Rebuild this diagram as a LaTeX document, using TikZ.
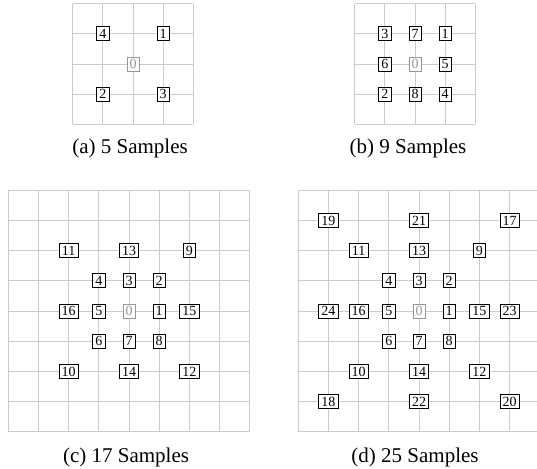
\documentclass[tikz,border=0pt]{standalone}
\usepackage{fontspec}
\setmainfont{Liberation Serif}
\definecolor{gridgray}{RGB}{204,204,204}
\definecolor{origingray}{RGB}{150,150,150}
\def\cellsz{30.2}
\tikzset{
  gridline/.style={draw=gridgray, line width=0.9pt},
  sample/.style={draw=black, fill=white, line width=0.8pt, inner xsep=2.6pt, inner ysep=2.2pt,
    text height=9.5pt, text depth=0pt, font=\fontsize{14}{14}\selectfont},
  originbox/.style={sample, draw=origingray, text=origingray},
  caption/.style={anchor=base, font=\fontsize{21}{21}\selectfont},
  panel/.style={shift={#1}, yscale=-1}
}
\begin{document}
\begin{tikzpicture}[x=1pt, y=-1pt]
\useasboundingbox (0,0) rectangle (537,468);
\clip (0,0) rectangle (537,468);
% ---------- (a) ----------
\begin{scope}[panel={(133,64)}]
  \foreach \k in {-2,...,2} {
    \draw[gridline] ({\k*\cellsz},{-2*\cellsz}) -- ({\k*\cellsz},{2*\cellsz});
    \draw[gridline] ({-2*\cellsz},{\k*\cellsz}) -- ({2*\cellsz},{\k*\cellsz});
  }
  \node[originbox] (a0) at (0,0) {0};
  \foreach \n/\dx/\dy in {1/1/1,2/-1/-1,3/1/-1,4/-1/1}
    \node[sample] (a\n) at ({\dx*\cellsz},{\dy*\cellsz}) {\n};
\end{scope}
% ---------- (b) ----------
\begin{scope}[panel={(415,64)}]
  \foreach \k in {-2,...,2} {
    \draw[gridline] ({\k*\cellsz},{-2*\cellsz}) -- ({\k*\cellsz},{2*\cellsz});
    \draw[gridline] ({-2*\cellsz},{\k*\cellsz}) -- ({2*\cellsz},{\k*\cellsz});
  }
  \node[originbox] (b0) at (0,0) {0};
  \foreach \n/\dx/\dy in {1/1/1,2/-1/-1,3/-1/1,4/1/-1,5/1/0,6/-1/0,7/0/1,8/0/-1}
    \node[sample] (b\n) at ({\dx*\cellsz},{\dy*\cellsz}) {\n};
\end{scope}
% ---------- (c) ----------
\begin{scope}[panel={(129,311)}]
  \foreach \k in {-4,...,4} {
    \draw[gridline] ({\k*\cellsz},{-4*\cellsz}) -- ({\k*\cellsz},{4*\cellsz});
    \draw[gridline] ({-4*\cellsz},{\k*\cellsz}) -- ({4*\cellsz},{\k*\cellsz});
  }
  \node[originbox] (c0) at (0,0) {0};
  \foreach \n/\dx/\dy in {1/1/0,2/1/1,3/0/1,4/-1/1,5/-1/0,6/-1/-1,7/0/-1,8/1/-1,
      9/2/2,10/-2/-2,11/-2/2,12/2/-2,13/0/2,14/0/-2,15/2/0,16/-2/0}
    \node[sample] (c\n) at ({\dx*\cellsz},{\dy*\cellsz}) {\n};
\end{scope}
% ---------- (d) ----------
\begin{scope}[panel={(419,311)}]
  \foreach \k in {-4,...,4} {
    \draw[gridline] ({\k*\cellsz},{-4*\cellsz}) -- ({\k*\cellsz},{4*\cellsz});
    \draw[gridline] ({-4*\cellsz},{\k*\cellsz}) -- ({4*\cellsz},{\k*\cellsz});
  }
  \node[originbox] (d0) at (0,0) {0};
  \foreach \n/\dx/\dy in {1/1/0,2/1/1,3/0/1,4/-1/1,5/-1/0,6/-1/-1,7/0/-1,8/1/-1,
      9/2/2,10/-2/-2,11/-2/2,12/2/-2,13/0/2,14/0/-2,15/2/0,16/-2/0,
      17/3/3,18/-3/-3,19/-3/3,20/3/-3,21/0/3,22/0/-3,23/3/0,24/-3/0}
    \node[sample] (d\n) at ({\dx*\cellsz},{\dy*\cellsz}) {\n};
\end{scope}
% ---------- captions ----------
\node[caption] (capa) at (130,153) {(a) 5 Samples};
\node[caption] (capb) at (408,153) {(b) 9 Samples};
\node[caption] (capc) at (126,462) {(c) 17 Samples};
\node[caption] (capd) at (415,462) {(d) 25 Samples};
\end{tikzpicture}
\end{document}
